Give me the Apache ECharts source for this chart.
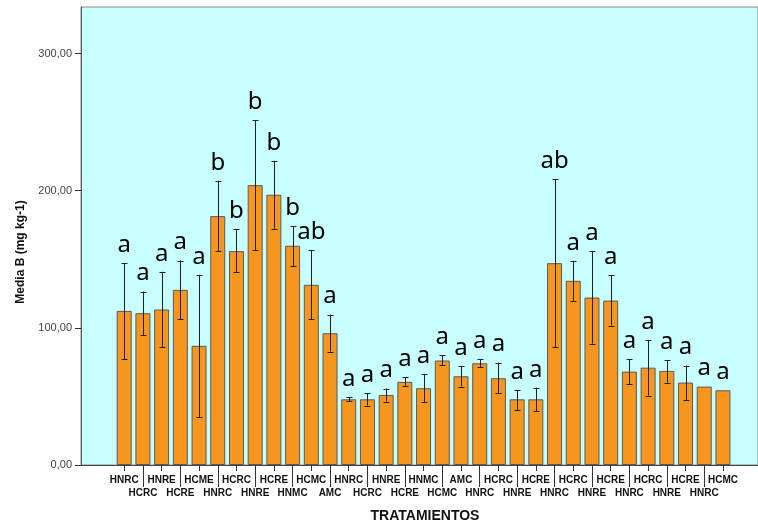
<!DOCTYPE html>
<html>
<head>
<meta charset="utf-8">
<script src="https://cdn.jsdelivr.net/npm/echarts@6/dist/echarts.min.js"></script>
<style>html,body{margin:0;padding:0;background:#fff}#c{width:758px;height:526px}</style>
</head>
<body>
<div id="c"></div>
<script>
var categories = ['HNRC','HCRC','HNRE','HCRE','HCME','HNRC','HCRC','HNRE','HCRE','HNMC','HCMC','AMC','HNRC','HCRC','HNRE','HCRE','HNMC','HCMC','AMC','HNRC','HCRC','HNRE','HCRE','HNRC','HCRC','HNRE','HCRE','HNRC','HCRC','HNRE','HCRE','HNRC','HCMC'];
var means = [112.4,110.7,113.4,127.7,86.9,181.5,156.0,204.1,197.1,159.9,131.4,96.1,47.9,47.9,51.1,60.6,56.0,76.2,64.7,74.2,63.3,47.9,47.9,147.2,134.3,122.1,119.9,68.1,71.0,68.6,60.1,57.2,54.5];
var errHigh = [147.4,126.5,140.9,149.1,138.7,207.3,171.8,251.6,221.9,174.0,156.7,109.7,49.4,52.3,55.7,64.0,66.4,80.1,72.3,77.4,74.7,54.7,56.4,208.5,148.9,155.7,138.2,77.4,91.2,76.6,72.5,null,null];
var errLow = [77.1,94.9,85.9,106.3,34.8,155.7,140.4,156.7,172.3,145.0,106.3,82.7,46.5,43.3,46.2,57.7,45.7,72.8,57.2,71.5,52.3,40.1,39.4,85.9,119.7,88.5,101.7,59.1,50.6,60.1,47.4,null,null];
var letters = ['a','a','a','a','a','b','b','b','b','b','ab','a','a','a','a','a','a','a','a','a','a','a','a','ab','a','a','a','a','a','a','a','a','a'];
var yTicks = [0,100,200,300];
var yMax = 334;

var chart = echarts.init(document.getElementById('c'), null, {renderer:'canvas'});
var idx = categories.map(function(_, i){ return i; });

var option = {
  animation: false,
  backgroundColor: '#ffffff',
  grid: [
    {left: 81, top: 7, right: -2, bottom: 61, show: true, backgroundColor: '#c8ffff', borderColor: '#8a8a8a', borderWidth: 1, containLabel: false},
    {left: 114.85, top: 7, right: 25.7, bottom: 61, containLabel: false}
  ],
  xAxis: [
    {gridIndex: 1, type: 'category', position: 'bottom', data: categories, boundaryGap: true,
     axisLine: {show: false},
     axisTick: {show: true, alignWithLabel: true, length: 6, lineStyle: {color: '#333'},
                interval: function(i){ return i % 2 === 0; }},
     axisLabel: {interval: 0, margin: 9, color: '#111', fontSize: 10, fontWeight: 'bold',
                 fontFamily: 'Liberation Sans, Arial, sans-serif', lineHeight: 13,
                 formatter: function(v, i){ return i % 2 ? '\n' + v : v; }},
     splitLine: {show: false}},
    {gridIndex: 1, type: 'category', position: 'bottom', offset: 0, data: categories, boundaryGap: true,
     axisLine: {show: false},
     axisTick: {show: true, alignWithLabel: true, length: 22, lineStyle: {color: '#333'},
                interval: function(i){ return i % 2 === 1; }},
     axisLabel: {show: false}, splitLine: {show: false}},
    {gridIndex: 0, type: 'value', position: 'bottom', min: 0, max: 1, show: true,
     axisLine: {show: true, lineStyle: {color: '#444', width: 1}},
     axisTick: {show: false}, axisLabel: {show: false}, splitLine: {show: false}}
  ],
  yAxis: [
    {gridIndex: 0, type: 'value', min: 0, max: yMax, interval: 100,
     axisLine: {show: true, lineStyle: {color: '#555'}},
     axisTick: {show: true, length: 6, lineStyle: {color: '#333'}},
     axisLabel: {color: '#444', fontSize: 11, margin: 9, showMaxLabel: false,
                 fontFamily: 'Liberation Sans, Arial, sans-serif',
                 formatter: function(v){ return yTicks.indexOf(v) >= 0 ? v.toFixed(2).replace('.', ',') : ''; }},
     splitLine: {show: false}},
    {gridIndex: 1, type: 'value', min: 0, max: yMax, show: false}
  ],
  series: [
    {type: 'bar', xAxisIndex: 0, yAxisIndex: 1, data: means, barWidth: 15,
     itemStyle: {color: '#f7961e', borderColor: '#5a5a5a', borderWidth: 1}},
    {type: 'custom', xAxisIndex: 0, yAxisIndex: 1, z: 5,
     data: idx.map(function(i){ return [i, means[i]]; }),
     renderItem: function(params, api){
       var i = params.dataIndex;
       var children = [];
       var topVal = means[i];
       if (errHigh[i] != null && errLow[i] != null) {
         var hi = api.coord([i, errHigh[i]]);
         var lo = api.coord([i, errLow[i]]);
         var x = Math.round(hi[0]) + 0.5;
         var st = {stroke: '#222', lineWidth: 1};
         children.push({type: 'line', shape: {x1: x, y1: hi[1], x2: x, y2: lo[1]}, style: st});
         children.push({type: 'line', shape: {x1: x - 3, y1: Math.round(hi[1]) + 0.5, x2: x + 3, y2: Math.round(hi[1]) + 0.5}, style: st});
         children.push({type: 'line', shape: {x1: x - 3, y1: Math.round(lo[1]) + 0.5, x2: x + 3, y2: Math.round(lo[1]) + 0.5}, style: st});
         topVal = errHigh[i];
       }
       var tp = api.coord([i, topVal]);
       children.push({type: 'text', x: tp[0], y: tp[1] - 6,
         style: {text: letters[i], fill: '#000', fontSize: 24, fontFamily: 'Noto Sans, DejaVu Sans, sans-serif',
                 align: 'center', verticalAlign: 'bottom'}});
       return {type: 'group', children: children};
     }}
  ],
  graphic: [
    {type: 'text', x: 21, y: 252, rotation: Math.PI / 2,
     style: {text: 'Media B (mg kg-1)', fill: '#111', fontSize: 12, fontWeight: 'bold',
             fontFamily: 'Liberation Sans, Arial, sans-serif', align: 'center', verticalAlign: 'middle'}},
    {type: 'text', x: 425, y: 516,
     style: {text: 'TRATAMIENTOS', fill: '#111', fontSize: 14, fontWeight: 'bold',
             fontFamily: 'Liberation Sans, Arial, sans-serif', align: 'center', verticalAlign: 'middle'}}
  ]
};
chart.setOption(option);
</script>
</body>
</html>
